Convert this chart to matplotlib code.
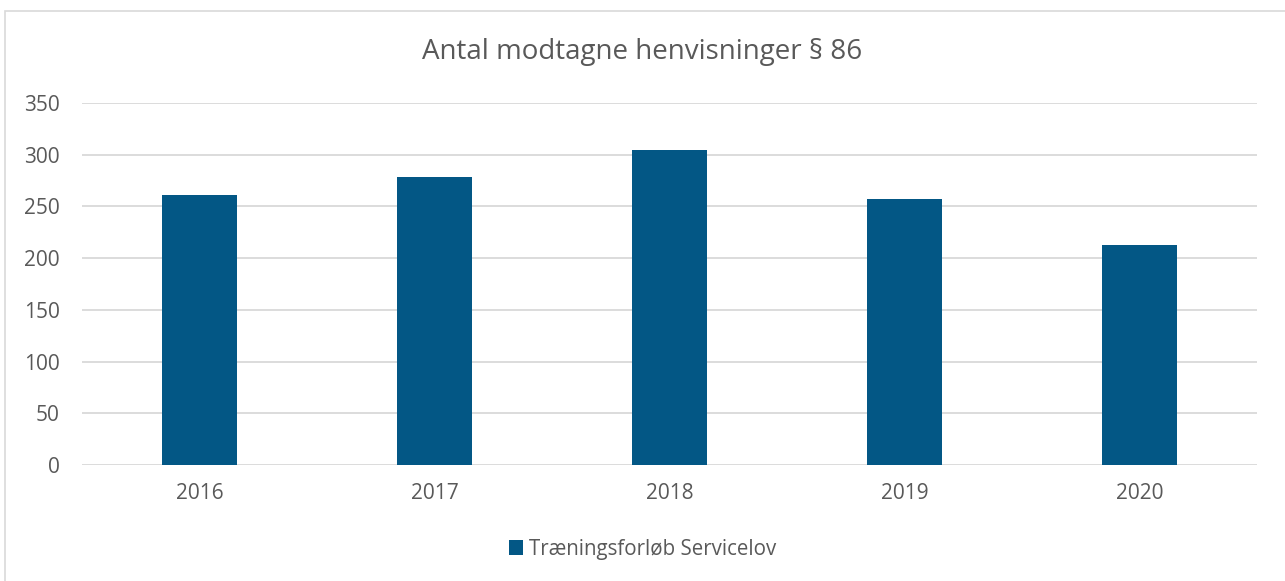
import matplotlib
matplotlib.use("Agg")
import matplotlib.pyplot as plt
from matplotlib.patches import Rectangle

years = ["2016", "2017", "2018", "2019", "2020"]
values = [261, 278, 305, 257, 213]
series_name = "Træningsforløb Servicelov"
title = "Antal modtagne henvisninger § 86"

bar_color = "#035785"
text_color = "#595959"
grid_color = "#d9d9d9"

plt.rcParams['font.family'] = ['Open Sans', 'DejaVu Sans']

fig = plt.figure(figsize=(12.85, 5.81), dpi=100)
W, H = 1285, 581
ax = fig.add_axes([82 / W, 1 - 465 / H, (1257 - 82) / W, (465 - 103) / H])

# light frame round the chart
fig.patches.append(Rectangle((5 / W, -0.1), 1.2, 1.1 - 10.5 / H, transform=fig.transFigure,
                             fill=False, edgecolor=grid_color, linewidth=1.2))

x = range(len(years))
ax.bar(x, values, width=0.315, color=bar_color, label=series_name, zorder=3)

ax.set_xlim(-0.5, len(years) - 0.5)
ax.set_ylim(0, 350)
ax.set_yticks(range(0, 351, 50))
ax.set_xticks(list(x))
ax.set_xticklabels(years)
ax.yaxis.grid(True, color=grid_color, linewidth=1.3, zorder=0)
for s in ax.spines.values():
    s.set_visible(False)
ax.tick_params(axis='both', length=0, labelsize=15, labelcolor=text_color)
ax.tick_params(axis='y', pad=16)
ax.tick_params(axis='x', pad=13)

fig.text(0.5, 1 - 52 / H, title, ha='center', va='center', fontsize=20, color=text_color)

fig.legend(loc='center', bbox_to_anchor=(0.5, 1 - 549 / H), frameon=False,
           fontsize=14.8, labelcolor=text_color, handlelength=0.7, handleheight=0.7,
           handletextpad=0.3)

fig.savefig("out.png", dpi=100, facecolor="white")
